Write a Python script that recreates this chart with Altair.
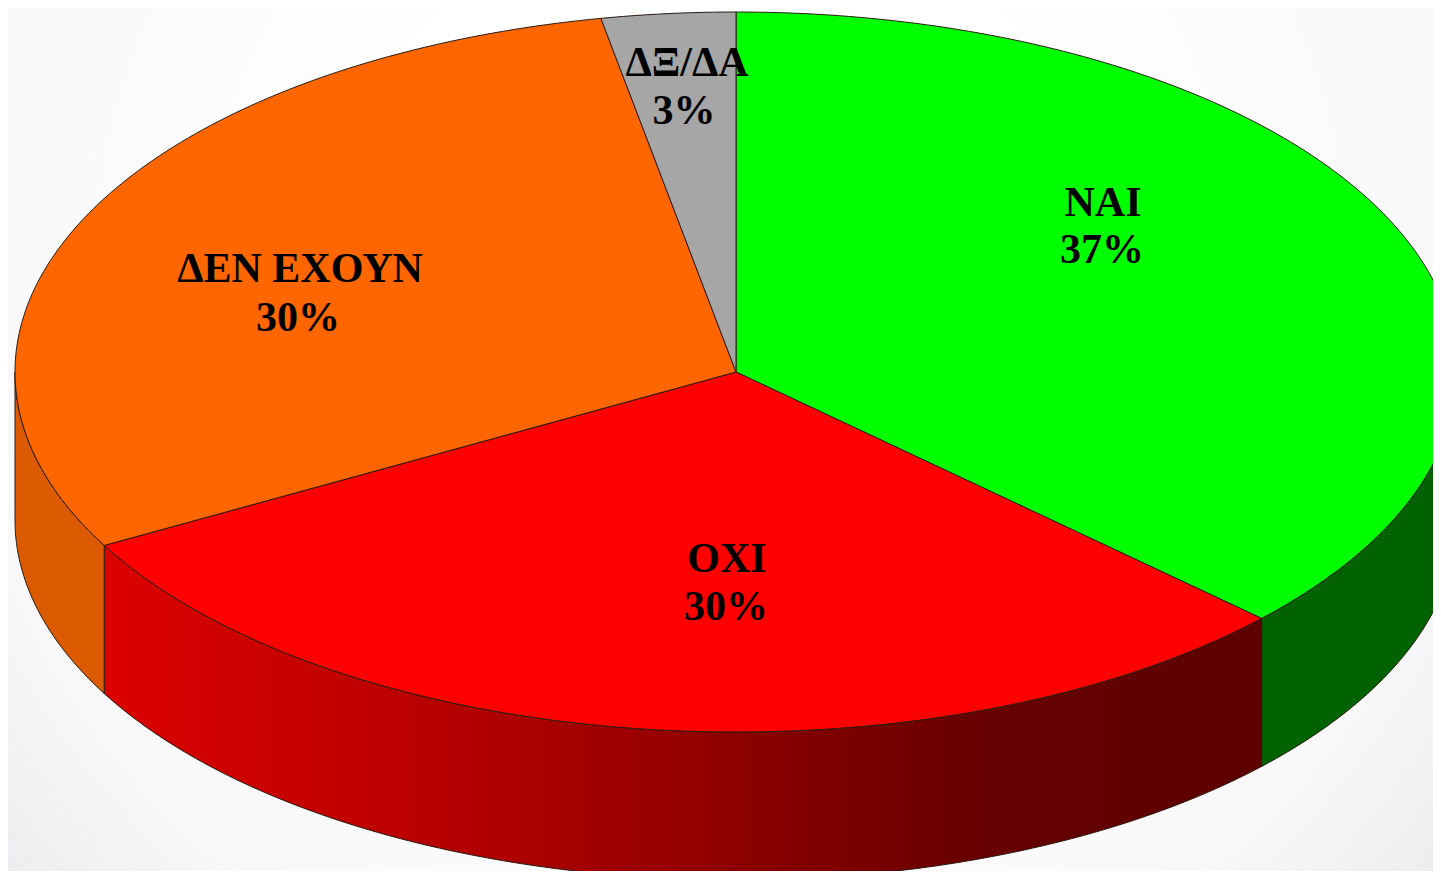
import math
import altair as alt

# Chart values
categories = ["ΝΑΙ", "ΟΧΙ", "ΔΕΝ ΕΧΟΥΝ", "ΔΞ/ΔΑ"]
shares = [37, 30, 30, 3]
top_colors = ["#00ff00", "#ff0000", "#ff6600", "#a6a6a6"]
wall_colors = ["#006300", None, "#dc5a00", "#8a8a8a"]

# Geometry of the tilted disc (reference pixels)
CX, CY, RX, RY, DEPTH = 736, 372, 721, 360, 148
W, H = 1425, 863

# Label anchors (reference pixels)
label_x = [1103, 727, 300, 687]
label_y = [203, 559, 269, 63]
pct_x = [1102, 726, 298, 684]
pct_y = [250, 607, 318, 111]


def rim(pct, dy=0.0):
    t = 2 * math.pi * pct / 100
    return [CX + RX * math.sin(t), CY - RY * math.cos(t) + dy]


def sweep(a, b, dy=0.0):
    n = max(2, int(abs(b - a) * 4))
    return [rim(a + (b - a) * i / n, dy) for i in range(n + 1)]


def feature(name, ring):
    return {"type": "Feature", "properties": {"name": name},
            "geometry": {"type": "Polygon", "coordinates": [ring + [ring[0]]]}}


def geo(features):
    return alt.InlineData(values={"type": "FeatureCollection", "features": features},
                          format=alt.DataFormat(type="json", property="features"))


top_features, wall = [], {}
start = 0
for name, s in zip(categories, shares):
    end = start + s
    top_features.append(feature(name, [[CX, CY]] + sweep(start, end)))
    a, b = max(start, 25), min(end, 75)  # only the front half of the rim shows a wall
    if a < b:
        wall[name] = feature(name, sweep(a, b) + sweep(b, a, DEPTH))
    start = end

proj = dict(type="identity", scale=1, translate=[-8, -8])
line = dict(stroke="#2a1a10", strokeWidth=1, clip=True)

background = alt.Chart(alt.Data(values=[{"a": 1}])).mark_rect(
    fill=alt.RadialGradient(
        gradient="radial", x1=0.5, y1=0.38, x2=0.5, y2=0.38, r1=0.25, r2=0.78,
        stops=[alt.GradientStop(offset=0, color="#ffffff"),
               alt.GradientStop(offset=0.55, color="#f8f8fa"),
               alt.GradientStop(offset=1, color="#dfe1e4")])
).encode(x=alt.value(0), x2=alt.value(W), y=alt.value(0), y2=alt.value(H))

layers = [background]
for name, color in zip(categories, wall_colors):
    if name not in wall:
        continue
    if color is None:
        fill = alt.LinearGradient(
            gradient="linear", x1=0, y1=0, x2=1, y2=0,
            stops=[alt.GradientStop(offset=0, color="#dc0000"),
                   alt.GradientStop(offset=0.25, color="#bd0000"),
                   alt.GradientStop(offset=0.5, color="#950000"),
                   alt.GradientStop(offset=0.75, color="#680000"),
                   alt.GradientStop(offset=1, color="#5c0000")])
    else:
        fill = color
    layers.append(alt.Chart(geo([wall[name]])).mark_geoshape(fill=fill, **line).project(**proj))

layers.append(
    alt.Chart(geo(top_features)).mark_geoshape(**line).encode(
        fill=alt.Fill("properties.name:N", legend=None,
                      scale=alt.Scale(domain=categories, range=top_colors))
    ).project(**proj)
)

labels = [{"t": c, "x": x, "y": y} for c, x, y in zip(categories, label_x, label_y)]
labels += [{"t": f"{s}%", "x": x, "y": y} for s, x, y in zip(shares, pct_x, pct_y)]
layers.append(
    alt.Chart(alt.Data(values=labels)).mark_text(
        font="Liberation Serif", fontWeight="bold", fontSize=42, color="#000000",
        align="center", baseline="middle"
    ).encode(longitude="x:Q", latitude="y:Q", text="t:N").project(**proj)
)

chart = alt.layer(*layers).properties(
    width=W, height=H, padding=0, background="#ffffff",
    autosize=alt.AutoSizeParams(type="none")
).configure_view(stroke=None)

chart.save("out.html", embed_options={"renderer": "svg", "actions": False})
